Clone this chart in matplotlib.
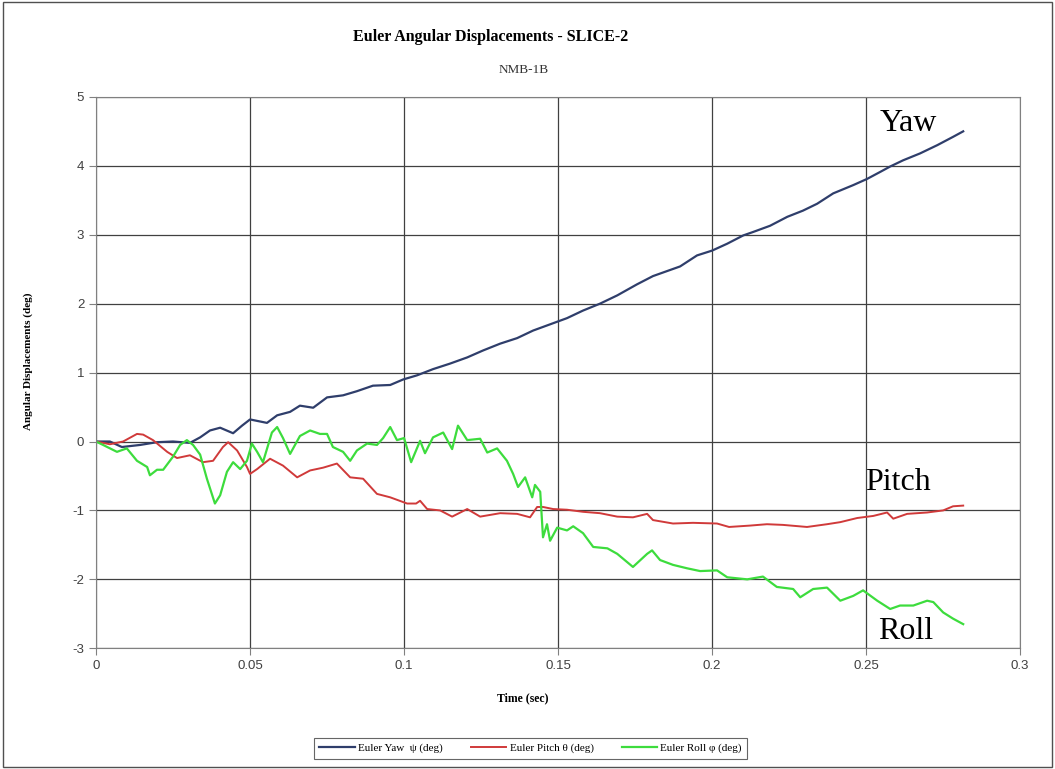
import matplotlib
matplotlib.use("Agg")
import matplotlib.pyplot as plt
from matplotlib.patches import Rectangle

# values
yaw_t = [0.0, 0.0045, 0.0084, 0.0143, 0.0198, 0.025, 0.0305, 0.0338, 0.037, 0.0403,
         0.0445, 0.0474, 0.05, 0.0555, 0.0588, 0.063, 0.0662, 0.0705, 0.075, 0.0802,
         0.0847, 0.0899, 0.0955, 0.0997, 0.1042, 0.1094, 0.1149, 0.1205, 0.1256, 0.1312,
         0.1367, 0.1419, 0.1474, 0.1529, 0.1581, 0.1636, 0.1692, 0.1756, 0.1808, 0.1896,
         0.1951, 0.2, 0.2049, 0.2101, 0.2133, 0.2188, 0.2244, 0.2295, 0.2341, 0.2393,
         0.2458, 0.2503, 0.2545, 0.2578, 0.262, 0.2675, 0.2731, 0.2782, 0.2815]
yaw_deg = [0.0, 0.0, -0.08, -0.05, -0.01, 0.0, -0.02, 0.06, 0.16, 0.2,
           0.12, 0.23, 0.32, 0.27, 0.38, 0.43, 0.52, 0.49, 0.64, 0.67,
           0.73, 0.81, 0.82, 0.9, 0.96, 1.05, 1.13, 1.22, 1.32, 1.42,
           1.5, 1.61, 1.7, 1.79, 1.9, 2.0, 2.12, 2.28, 2.4, 2.54,
           2.7, 2.77, 2.87, 2.99, 3.04, 3.13, 3.26, 3.35, 3.45, 3.6,
           3.72, 3.81, 3.91, 3.99, 4.08, 4.18, 4.3, 4.42, 4.5]

pitch_t = [0.0, 0.0045, 0.0088, 0.0133, 0.0153, 0.0185, 0.0231, 0.0263, 0.0305, 0.0347,
           0.038, 0.0412, 0.0429, 0.0458, 0.049, 0.05, 0.0523, 0.0565, 0.0607, 0.0653,
           0.0695, 0.0737, 0.0782, 0.0825, 0.0867, 0.0912, 0.0955, 0.101, 0.1039, 0.1052,
           0.1075, 0.1117, 0.1156, 0.1205, 0.1247, 0.1312, 0.1367, 0.1409, 0.1432, 0.1451,
           0.1484, 0.1529, 0.1581, 0.1636, 0.1692, 0.1743, 0.1789, 0.1808, 0.1873, 0.1938,
           0.2016, 0.2055, 0.2123, 0.2178, 0.223, 0.2308, 0.2373, 0.2416, 0.2471, 0.2523,
           0.2568, 0.2588, 0.2633, 0.2698, 0.275, 0.2782, 0.2815]
pitch_deg = [0.0, -0.04, 0.0, 0.11, 0.1, 0.02, -0.15, -0.24, -0.2, -0.3,
             -0.28, -0.08, -0.01, -0.13, -0.37, -0.47, -0.4, -0.25, -0.35, -0.52,
             -0.42, -0.38, -0.32, -0.52, -0.54, -0.76, -0.81, -0.9, -0.9, -0.86,
             -0.98, -1.0, -1.09, -0.98, -1.09, -1.04, -1.05, -1.1, -0.95, -0.95,
             -0.98, -0.99, -1.02, -1.04, -1.09, -1.1, -1.05, -1.14, -1.19, -1.18,
             -1.19, -1.24, -1.22, -1.2, -1.21, -1.24, -1.2, -1.17, -1.11, -1.08,
             -1.03, -1.12, -1.05, -1.03, -1.0, -0.94, -0.93]

roll_t = [0.0, 0.0023, 0.0068, 0.01, 0.0133, 0.0166, 0.0175, 0.0198, 0.0218, 0.025,
          0.0273, 0.0295, 0.0315, 0.0338, 0.036, 0.0386, 0.0403, 0.0425, 0.0445, 0.0468,
          0.049, 0.0506, 0.0523, 0.0542, 0.0571, 0.0588, 0.0607, 0.063, 0.0662, 0.0695,
          0.0727, 0.075, 0.0769, 0.0802, 0.0825, 0.0847, 0.088, 0.0912, 0.0932, 0.0955,
          0.0977, 0.1, 0.1023, 0.1052, 0.1068, 0.1094, 0.1127, 0.1156, 0.1175, 0.1205,
          0.1247, 0.127, 0.1302, 0.1334, 0.1354, 0.137, 0.1393, 0.1416, 0.1425, 0.1442,
          0.1451, 0.1464, 0.1474, 0.1497, 0.1529, 0.1549, 0.1581, 0.1614, 0.166, 0.1692,
          0.1743, 0.1789, 0.1805, 0.1831, 0.1873, 0.1919, 0.1961, 0.2016, 0.2049, 0.2114,
          0.2165, 0.221, 0.2263, 0.2286, 0.2328, 0.2373, 0.2416, 0.2458, 0.249, 0.2536,
          0.2578, 0.261, 0.2653, 0.2698, 0.2718, 0.275, 0.2782, 0.2815]
roll_deg = [0.0, -0.05, -0.15, -0.1, -0.28, -0.37, -0.49, -0.41, -0.41, -0.22,
            -0.05, 0.02, -0.05, -0.19, -0.54, -0.9, -0.78, -0.44, -0.3, -0.4,
            -0.28, -0.03, -0.15, -0.3, 0.13, 0.21, 0.05, -0.18, 0.08, 0.16,
            0.11, 0.11, -0.08, -0.15, -0.28, -0.13, -0.03, -0.05, 0.05, 0.21,
            0.02, 0.05, -0.3, 0.01, -0.17, 0.06, 0.13, -0.11, 0.23, 0.02,
            0.04, -0.16, -0.1, -0.28, -0.47, -0.66, -0.52, -0.81, -0.63, -0.73,
            -1.39, -1.2, -1.44, -1.25, -1.29, -1.23, -1.33, -1.53, -1.55, -1.63,
            -1.82, -1.63, -1.58, -1.72, -1.79, -1.84, -1.88, -1.87, -1.97, -2.0,
            -1.96, -2.11, -2.14, -2.26, -2.14, -2.12, -2.31, -2.24, -2.16, -2.31,
            -2.43, -2.38, -2.38, -2.31, -2.33, -2.48, -2.57, -2.65]

SERIF = ["Liberation Serif", "DejaVu Serif"]
SANS = ["Liberation Sans", "DejaVu Sans"]
plt.rcParams['axes.unicode_minus'] = False

fig = plt.figure(figsize=(10.55, 7.69), dpi=100)
ax = fig.add_axes([0.091, 0.157, 0.876, 0.717])

ax.plot(yaw_t, yaw_deg, color="#2f3e6b", linewidth=1.6, label="Euler Yaw  \u03c8 (deg)")
ax.plot(pitch_t, pitch_deg, color="#d03a3a", linewidth=1.4, label="Euler Pitch \u03b8 (deg)")
ax.plot(roll_t, roll_deg, color="#3ddc3d", linewidth=1.6, label="Euler Roll \u03c6 (deg)")

ax.set_xlim(0, 0.3)
ax.set_ylim(-3, 5)
ax.set_xticks([0, 0.05, 0.1, 0.15, 0.2, 0.25, 0.3])
ax.set_xticklabels(["0", "0.05", "0.1", "0.15", "0.2", "0.25", "0.3"])
ax.set_yticks(range(-3, 6))
ax.grid(True, color="#404040", linewidth=0.9)
ax.set_axisbelow(True)
for s in ax.spines.values():
    s.set_color("#808080")
ax.tick_params(direction="out", length=5, color="#808080", labelsize=9.5, labelcolor="#404040")
for lbl in ax.get_xticklabels() + ax.get_yticklabels():
    lbl.set_family(SANS)

ax.set_xlabel("Time (sec)", family=SERIF, fontweight="bold", fontsize=8.5)
ax.xaxis.set_label_coords(0.462, -0.08)
ax.set_ylabel("Angular Displacements (deg)", family=SERIF, fontweight="bold", fontsize=8)
ax.yaxis.set_label_coords(-0.068, 0.52)

fig.text(0.465, 0.952, "Euler Angular Displacements - SLICE-2", family=SERIF,
         fontweight="bold", fontsize=11.5, ha="center", va="center")
fig.text(0.496, 0.909, "NMB-1B", family=SERIF, fontsize=9.5, ha="center", va="center",
         color="#333333")

ax.text(0.2545, 4.51, "Yaw", family=SERIF, fontsize=23, va="baseline")
ax.text(0.2495, -0.71, "Pitch", family=SERIF, fontsize=23, va="baseline")
ax.text(0.254, -2.86, "Roll", family=SERIF, fontsize=23, va="baseline")

leg = fig.legend(loc="center", bbox_to_anchor=(0.503, 0.027), ncol=3, frameon=True,
                 fancybox=False, edgecolor="#404040", prop={"family": SERIF, "size": 8},
                 handlelength=3.2, columnspacing=2.5, borderpad=0.5, handletextpad=0.3)
leg.get_frame().set_linewidth(0.8)

fig.patches.append(Rectangle((0.003, 0.003), 0.994, 0.994, transform=fig.transFigure,
                             fill=False, edgecolor="#505050", linewidth=1))

fig.savefig("out.png", dpi=100)
